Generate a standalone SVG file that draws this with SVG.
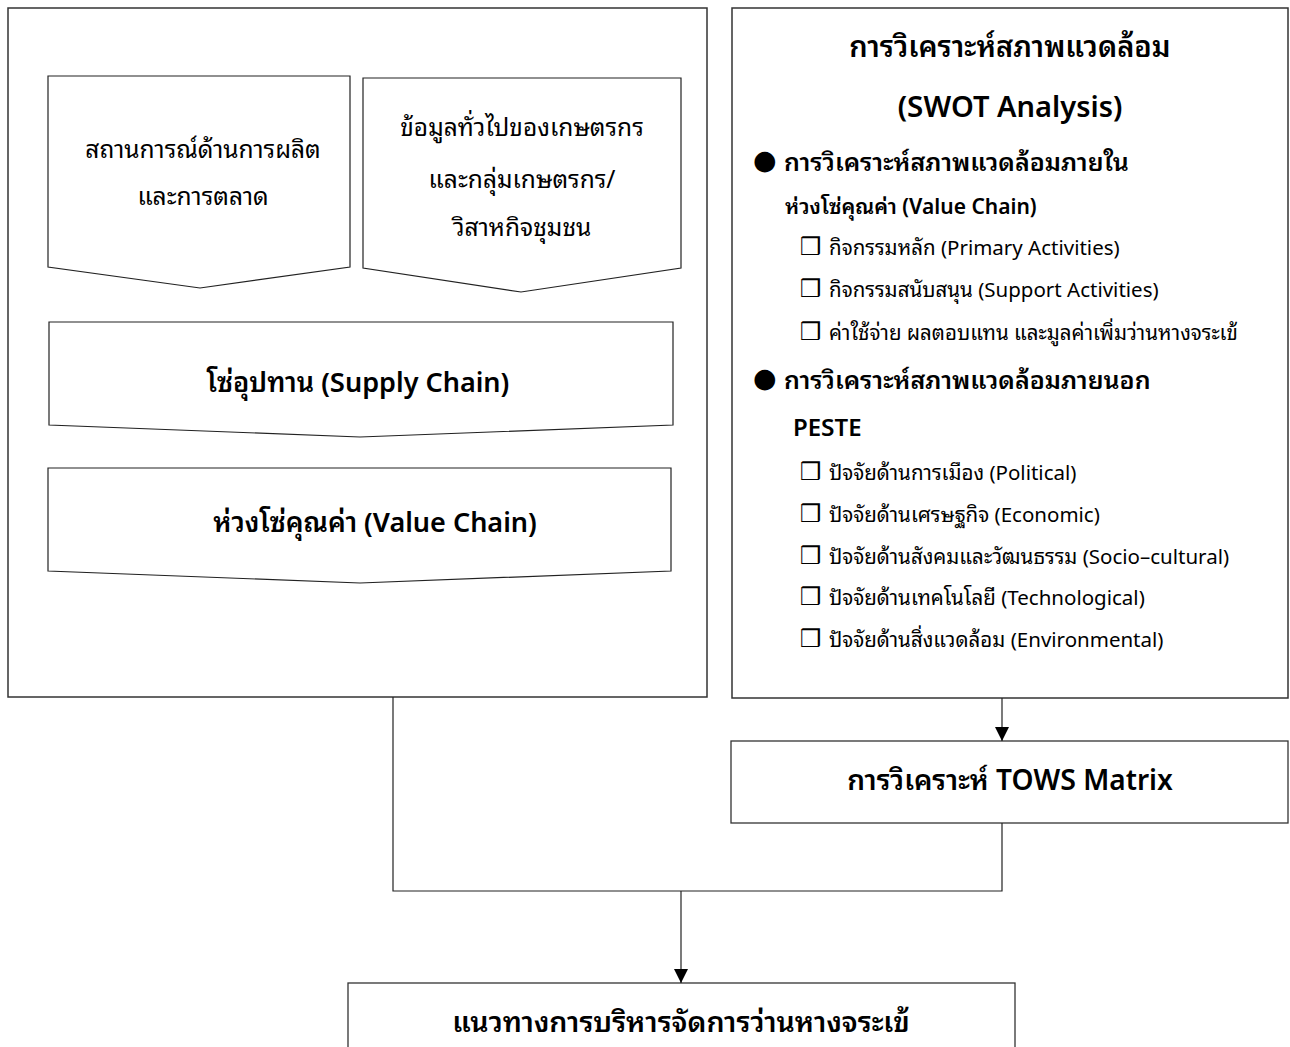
<svg xmlns="http://www.w3.org/2000/svg" width="1290" height="1047" viewBox="0 0 1290 1047">
<defs>
<marker id="ah" viewBox="0 0 14 16" refX="14" refY="7" markerWidth="14" markerHeight="16" markerUnits="userSpaceOnUse" orient="auto">
<path d="M0,0 L14,7 L0,14 Z" fill="#000"/>
</marker>
<style>
.frame{fill:#fff;stroke:#333;stroke-width:1.5}
.chev{fill:#fff;stroke:#222;stroke-width:1.2}
.box{fill:#fff;stroke:#333;stroke-width:1.3}
.conn{fill:none;stroke:#222;stroke-width:1.2}
text{font-family:"Noto Sans Thai Looped","Noto Sans Thai","Noto Sans","Open Sans","DejaVu Sans",sans-serif;fill:#000}
.c{text-anchor:middle;dominant-baseline:central}
.l{dominant-baseline:central}
.b{font-weight:600}
.t{font-size:29px;font-weight:600}
.s{font-size:20.5px}
.cb{font-family:"DejaVu Sans",sans-serif;font-size:24px;font-weight:bold}
.dot{font-family:"DejaVu Sans",sans-serif;font-size:27px}
</style>
</defs>
<rect width="1290" height="1047" fill="#fff"/>

<g id="left-frame"><rect class="frame" x="8" y="8" width="699" height="689"/></g>
<g id="right-frame"><rect class="frame" x="732" y="8" width="556" height="690"/></g>

<g id="chevron-production">
<path class="chev" d="M48,76 L350,76 L350,267 L200,288 L48,267 Z"/>
<text class="c" font-size="24.5" x="203" y="147">สถานการณ์ด้านการผลิต</text>
<text class="c" font-size="24.5" x="203" y="194">และการตลาด</text>
</g>

<g id="chevron-farmers">
<path class="chev" d="M363,78 L681,78 L681,268 L521,292 L363,268 Z"/>
<text class="c" font-size="24.5" x="522" y="125">ข้อมูลทั่วไปของเกษตรกร</text>
<text class="c" font-size="24.5" x="522" y="177">และกลุ่มเกษตรกร/</text>
<text class="c" font-size="24.5" x="522" y="225">วิสาหกิจชุมชน</text>
</g>

<g id="chevron-supply">
<path class="chev" d="M49,322 L673,322 L673,425 L360,437 L49,425 Z"/>
<text class="c b" font-size="27" x="358" y="379">โซ่อุปทาน (Supply Chain)</text>
</g>

<g id="chevron-value">
<path class="chev" d="M48,468 L671,468 L671,571 L360,583 L48,571 Z"/>
<text class="c b" font-size="27" x="375" y="519">ห่วงโซ่คุณค่า (Value Chain)</text>
</g>

<g id="swot">
<text class="c t" x="1010" y="44">การวิเคราะห์สภาพแวดล้อม</text>
<text class="c t" x="1010" y="104">(SWOT Analysis)</text>
<text class="l dot" x="753" y="159">●</text>
<text class="l b" x="784" y="160" font-size="25">การวิเคราะห์สภาพแวดล้อมภายใน</text>
<text class="l b" x="785" y="204" font-size="21">ห่วงโซ่คุณค่า (Value Chain)</text>
<text class="l cb" x="800" y="247">❒</text><text class="l s" x="829" y="245">กิจกรรมหลัก (Primary Activities)</text>
<text class="l cb" x="800" y="289">❒</text><text class="l s" x="829" y="287">กิจกรรมสนับสนุน (Support Activities)</text>
<text class="l cb" x="800" y="332">❒</text><text class="l s" x="829" y="330">ค่าใช้จ่าย ผลตอบแทน และมูลค่าเพิ่มว่านหางจระเข้</text>
<text class="l dot" x="753" y="377">●</text>
<text class="l b" x="784" y="378" font-size="25">การวิเคราะห์สภาพแวดล้อมภายนอก</text>
<text class="l b" x="793" y="425" font-size="24">PESTE</text>
<text class="l cb" x="800" y="472">❒</text><text class="l s" x="829" y="470">ปัจจัยด้านการเมือง (Political)</text>
<text class="l cb" x="800" y="514">❒</text><text class="l s" x="829" y="512">ปัจจัยด้านเศรษฐกิจ (Economic)</text>
<text class="l cb" x="800" y="556">❒</text><text class="l s" x="829" y="554">ปัจจัยด้านสังคมและวัฒนธรรม (Socio–cultural)</text>
<text class="l cb" x="800" y="597">❒</text><text class="l s" x="829" y="595">ปัจจัยด้านเทคโนโลยี (Technological)</text>
<text class="l cb" x="800" y="639">❒</text><text class="l s" x="829" y="637">ปัจจัยด้านสิ่งแวดล้อม (Environmental)</text>
</g>

<g id="tows">
<rect class="box" x="731" y="741" width="557" height="82"/>
<text class="c b" font-size="28" x="1010" y="777">การวิเคราะห์ TOWS Matrix</text>
</g>

<g id="guideline">
<rect class="box" x="348" y="983" width="667" height="80"/>
<text class="c b" font-size="28.5" x="681" y="1019">แนวทางการบริหารจัดการว่านหางจระเข้</text>
</g>

<g id="connectors">
<path class="conn" d="M393,697 L393,891 L1002,891 L1002,823"/>
<path class="conn" d="M1002,698 L1002,741" marker-end="url(#ah)"/>
<path class="conn" d="M681,891 L681,983" marker-end="url(#ah)"/>
</g>
</svg>
